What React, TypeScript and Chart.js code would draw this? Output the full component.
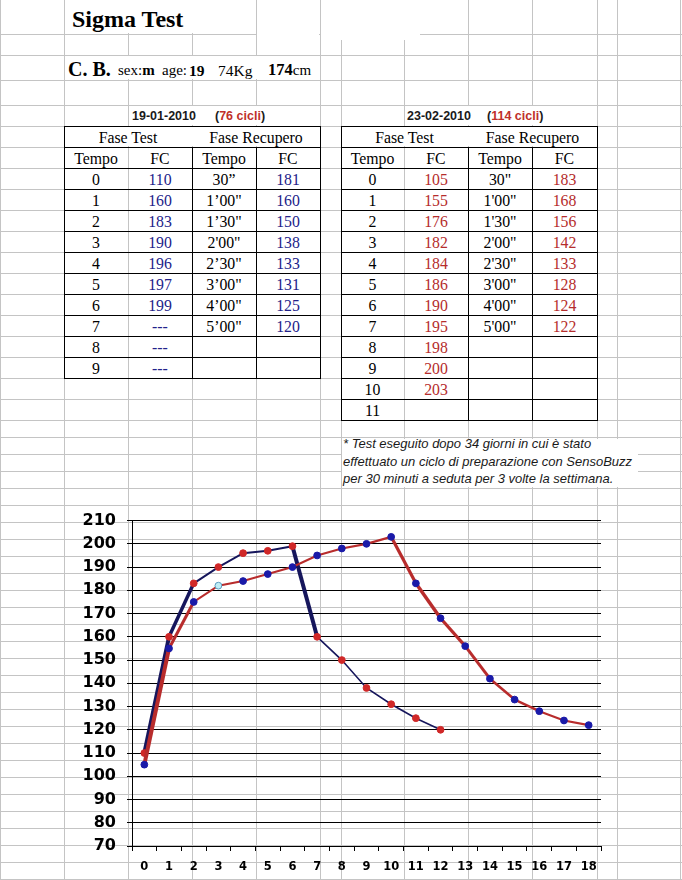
import React, { useEffect, useRef } from "react";
import { Chart, registerables } from "chart.js";
Chart.register(...registerables);

// ---------------- DATA ----------------
const xLabels = ["0", "1", "2", "3", "4", "5", "6", "7", "8", "9", "10", "11", "12", "13", "14", "15", "16", "17", "18"];
// 19-01-2010 curve (navy line, red markers)
const fcJanChart = [110, 160, 183, 190, 196, 197, 199, 160, 150, 138, 131, 125, 120];
// 23-02-2010 curve (red line, blue markers)
const fcFebChart = [105, 155, 175, 182, 184, 187, 190, 195, 198, 200, 203, 183, 168, 156, 142, 133, 128, 124, 122];
const yMin = 70;
const yMax = 210;
const yStep = 10;

// table 19-01-2010
const janDate = "19-01-2010";
const janCycles = "76 cicli";
const janTempoTest = ["0", "1", "2", "3", "4", "5", "6", "7", "8", "9"];
const janFcTest = ["110", "160", "183", "190", "196", "197", "199", "---", "---", "---"];
const janTempoRec = ["30\u201d", "1\u201900\"", "1\u201930\"", "2'00\"", "2\u201930\"", "3\u201900\"", "4\u201900\"", "5\u201900\""];
const janFcRec = ["181", "160", "150", "138", "133", "131", "125", "120"];

// table 23-02-2010
const febDate = "23-02-2010";
const febCycles = "114 cicli";
const febTempoTest = ["0", "1", "2", "3", "4", "5", "6", "7", "8", "9", "10", "11"];
const febFcTest = ["105", "155", "176", "182", "184", "186", "190", "195", "198", "200", "203", ""];
const febTempoRec = ["30\"", "1'00\"", "1'30\"", "2'00\"", "2'30\"", "3'00\"", "4'00\"", "5'00\""];
const febFcRec = ["183", "168", "156", "142", "133", "128", "124", "122"];

const noteLines = [
  "* Test eseguito dopo 34 giorni in cui \u00e8 stato",
  "effettuato un ciclo di preparazione con SensoBuzz",
  "per 30 minuti a seduta per 3 volte la settimana.",
];

// ---------------- STYLE / LAYOUT ----------------
const SERIF = "'Liberation Serif', 'Times New Roman', serif";
const SANS = "'Liberation Sans', Arial, sans-serif";
const CHART_FONT = "'DejaVu Sans', 'Liberation Sans', sans-serif";
const GRID = "#c4c4c4";
const NAVY_LINE = "#16165c";
const RED_LINE = "#b82c2c";
const RED_PT = "#d02828";
const BLUE_PT = "#1a1aa8";
const NAVY_TXT = "#22228a";
const RED_TXT = "#b52c2c";

const janSegWidths = [4, 3.5, 2, 2, 2, 2, 4, 1.6, 1.6, 1.6, 1.6, 1.6];
const febSegWidths = [4, 3, 2, 2, 2, 2.2, 2.2, 2.2, 2.2, 2.2, 3.2, 3.5, 3.2, 3, 2.6, 2.4, 2.2, 2.2];
const febPtFill = fcFebChart.map((_, i) => (i === 3 ? "#bfeef6" : BLUE_PT));
const febPtBorder = fcFebChart.map((_, i) => (i === 3 ? "#5a9ac0" : BLUE_PT));

const COLS = [0, 64, 128, 192, 256, 320, 341, 404, 468, 532, 597, 617, 680];
const ROWS: number[] = [34, 55, 80, 105];
for (let y = 126; y <= 420; y += 21) ROWS.push(y);
ROWS.push(437);
for (let y = 454; y < 880; y += 17) ROWS.push(y);

// white areas that hide gridlines (overflowing text, merged cells, text box)
const MASKS = [
  [65, 0, 255, 33],
  [257, 0, 319, 38],
  [321, 0, 420, 40],
  [65, 56, 319, 79],
  [129, 106, 319, 125],
  [405, 106, 596, 125],
  [65, 127, 319, 146],
  [342, 127, 596, 146],
  [342, 439, 638, 487],
];

type TxtProps = {
  x: number;
  base: number;
  size: number;
  sans?: boolean;
  bold?: boolean;
  italic?: boolean;
  color?: string;
  center?: boolean;
  children: React.ReactNode;
};

function Txt({ x, base, size, sans, bold, italic, color = "#000", center, children }: TxtProps) {
  const k = sans ? 0.8465 : 0.8375;
  return (
    <div
      style={{
        position: "absolute",
        left: x,
        top: base - k * size,
        fontSize: size,
        lineHeight: size + "px",
        fontFamily: sans ? SANS : SERIF,
        fontWeight: bold ? "bold" : "normal",
        fontStyle: italic ? "italic" : "normal",
        color,
        whiteSpace: "nowrap",
        transform: center ? "translateX(-50%)" : undefined,
      }}
    >
      {children}
    </div>
  );
}

function Line({ x, y, w, h, c }: { x: number; y: number; w: number; h: number; c: string }) {
  return <div style={{ position: "absolute", left: x, top: y, width: w, height: h, background: c }} />;
}

type TableProps = {
  cols: number[];
  tempoTest: string[];
  fcTest: string[];
  tempoRec: string[];
  fcRec: string[];
  fcColor: string;
};

function DataTable({ cols, tempoTest, fcTest, tempoRec, fcRec, fcColor }: TableProps) {
  const top = 126;
  const rh = 21;
  const nRows = tempoTest.length + 2;
  const bottom = top + rh * nRows;
  const lines: React.ReactNode[] = [];
  for (let i = 0; i <= nRows; i++) {
    lines.push(<Line key={"h" + i} x={cols[0]} y={top + rh * i} w={cols[4] - cols[0] + 1} h={1} c="#000" />);
  }
  lines.push(<Line key="v0" x={cols[0]} y={top} w={1} h={bottom - top + 1} c="#000" />);
  lines.push(<Line key="v4" x={cols[4]} y={top} w={1} h={bottom - top + 1} c="#000" />);
  lines.push(<Line key="v2" x={cols[2]} y={top + rh} w={1} h={bottom - top - rh} c="#000" />);
  lines.push(<Line key="v3" x={cols[3]} y={top + rh} w={1} h={bottom - top - rh} c="#000" />);
  const cx = [0, 1, 2, 3].map((i) => (cols[i] + cols[i + 1]) / 2);
  const b = (r: number) => top + rh * r + 17.5;
  const fs = 15.8;
  const texts: React.ReactNode[] = [];
  texts.push(<Txt key="ft" x={(cols[0] + cols[2]) / 2} base={b(0)} size={fs} center>Fase Test</Txt>);
  texts.push(<Txt key="fr" x={(cols[2] + cols[4]) / 2} base={b(0)} size={fs} center>Fase Recupero</Txt>);
  ["Tempo", "FC", "Tempo", "FC"].forEach((t, i) =>
    texts.push(<Txt key={"hd" + i} x={cx[i]} base={b(1)} size={fs} center>{t}</Txt>)
  );
  tempoTest.forEach((t, i) => {
    texts.push(<Txt key={"tt" + i} x={cx[0]} base={b(i + 2)} size={fs} center>{t}</Txt>);
    if (fcTest[i]) texts.push(<Txt key={"ft" + i} x={cx[1]} base={b(i + 2)} size={fs} color={fcColor} center>{fcTest[i]}</Txt>);
  });
  tempoRec.forEach((t, i) => {
    texts.push(<Txt key={"tr" + i} x={cx[2]} base={b(i + 2)} size={fs} center>{t}</Txt>);
    texts.push(<Txt key={"fc" + i} x={cx[3]} base={b(i + 2)} size={fs} color={fcColor} center>{fcRec[i]}</Txt>);
  });
  return (
    <>
      {lines}
      {texts}
    </>
  );
}

function FcChart() {
  const ref = useRef<HTMLCanvasElement>(null);
  useEffect(() => {
    if (!ref.current) return;
    const chart = new Chart(ref.current, {
      type: "line",
      data: {
        labels: xLabels,
        datasets: [
          {
            label: febDate,
            data: fcFebChart,
            borderColor: RED_LINE,
            backgroundColor: BLUE_PT,
            pointBackgroundColor: febPtFill,
            pointBorderColor: febPtBorder,
            pointBorderWidth: 1,
            pointRadius: 3.4,
            borderWidth: 2.2,
            tension: 0,
            fill: false,
            segment: { borderWidth: (c: any) => febSegWidths[c.p0DataIndex] ?? 2 },
          },
          {
            label: janDate,
            data: fcJanChart,
            borderColor: NAVY_LINE,
            backgroundColor: RED_PT,
            pointBackgroundColor: RED_PT,
            pointBorderColor: RED_PT,
            pointBorderWidth: 1,
            pointRadius: 3.4,
            borderWidth: 2,
            tension: 0,
            fill: false,
            segment: { borderWidth: (c: any) => janSegWidths[c.p0DataIndex] ?? 2 },
          },
        ],
      },
      options: {
        responsive: false,
        animation: false,
        layout: { padding: { top: 19, right: 9, left: 0, bottom: 0 } },
        plugins: { legend: { display: false }, tooltip: { enabled: false } },
        scales: {
          x: {
            type: "category",
            offset: true,
            grid: { display: true, drawOnChartArea: false, drawTicks: true, tickLength: 5, color: "#000", offset: true },
            border: { display: true, color: "#000", width: 1 },
            ticks: {
              color: "#000",
              font: { family: CHART_FONT, weight: "bold", size: 11.5 },
              padding: 9,
              maxRotation: 0,
              autoSkip: false,
            },
            afterFit: (s: any) => {
              s.height = 34;
            },
          },
          y: {
            min: yMin,
            max: yMax,
            ticks: {
              stepSize: yStep,
              color: "#000",
              font: { family: CHART_FONT, weight: "bold", size: 16 },
              padding: 11,
            },
            grid: { color: "#000", lineWidth: 1, drawTicks: true, tickLength: 5 },
            border: { display: true, color: "#000", width: 1 },
            afterFit: (s: any) => {
              s.width = 72;
            },
          },
        },
      } as any,
    });
    return () => chart.destroy();
  }, []);
  return (
    <canvas
      ref={ref}
      width={550}
      height={380}
      style={{ position: "absolute", left: 60, top: 500, width: 550, height: 380 }}
    />
  );
}

export default function App() {
  return (
    <div
      style={{
        position: "absolute",
        left: 0,
        top: 0,
        width: 682,
        height: 880,
        background: "#fff",
        overflow: "hidden",
      }}
    >
      {COLS.map((x) => (
        <Line key={"gc" + x} x={x} y={0} w={1} h={880} c={GRID} />
      ))}
      {ROWS.map((y) => (
        <Line key={"gr" + y} x={0} y={y} w={682} h={1} c={GRID} />
      ))}
      {MASKS.map((m, i) => (
        <div
          key={"m" + i}
          style={{ position: "absolute", left: m[0], top: m[1], width: m[2] - m[0], height: m[3] - m[1], background: "#fff" }}
        />
      ))}

      <Txt x={72} base={27} size={24} bold>
        Sigma Test
      </Txt>

      <Txt x={68} base={76} size={20} bold>
        C. B.
      </Txt>
      <Txt x={118} base={76} size={15}>
        sex:<b>m</b>
      </Txt>
      <Txt x={162} base={76} size={15}>
        age:
      </Txt>
      <Txt x={189} base={76} size={15.5} bold>
        19
      </Txt>
      <Txt x={218} base={76} size={15.5}>
        74Kg
      </Txt>
      <Txt x={268} base={76} size={16.5}>
        <b>174</b>
        <span style={{ fontSize: 15 }}>cm</span>
      </Txt>

      <Txt x={132} base={121} size={12.5} sans bold color="#1a1a1a">
        {janDate}
      </Txt>
      <Txt x={215} base={121} size={12.5} sans bold color="#1a1a1a">
        (<span style={{ color: "#c0302a" }}>{janCycles}</span>)
      </Txt>
      <Txt x={407} base={121} size={12.5} sans bold color="#1a1a1a">
        {febDate}
      </Txt>
      <Txt x={487} base={121} size={12.5} sans bold color="#1a1a1a">
        (<span style={{ color: "#c0302a" }}>{febCycles}</span>)
      </Txt>

      <DataTable
        cols={[64, 128, 192, 256, 320]}
        tempoTest={janTempoTest}
        fcTest={janFcTest}
        tempoRec={janTempoRec}
        fcRec={janFcRec}
        fcColor={NAVY_TXT}
      />
      <DataTable
        cols={[341, 404, 468, 532, 597]}
        tempoTest={febTempoTest}
        fcTest={febFcTest}
        tempoRec={febTempoRec}
        fcRec={febFcRec}
        fcColor={RED_TXT}
      />

      {noteLines.map((t, i) => (
        <Txt key={"n" + i} x={343} base={448.5 + i * 17.5} size={13} sans italic color="#1a1a1a">
          {t}
        </Txt>
      ))}

      <FcChart />
    </div>
  );
}
